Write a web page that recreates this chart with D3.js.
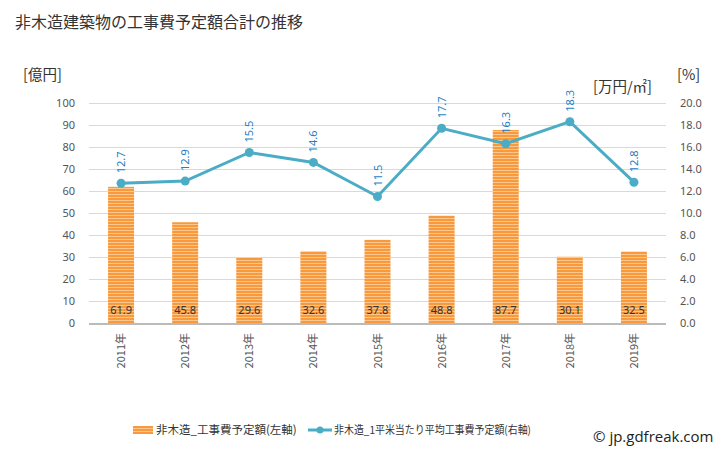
<!DOCTYPE html>
<html><head><meta charset="utf-8">
<script src="https://cdn.jsdelivr.net/npm/d3@7"></script>
<style>body{margin:0;background:#fff;} svg{display:block;font-family:"Noto Sans CJK JP","Noto Sans",sans-serif;}</style>
</head><body>
<script>
const years = ["2011年","2012年","2013年","2014年","2015年","2016年","2017年","2018年","2019年"];
const costValues = [61.9,45.8,29.6,32.6,37.8,48.8,87.7,30.1,32.5];
const unitValues = [12.7,12.9,15.5,14.6,11.5,17.7,16.3,18.3,12.8];
const leftTicks = [0,10,20,30,40,50,60,70,80,90,100];
const rightTicks = [0,2,4,6,8,10,12,14,16,18,20];
const title = "非木造建築物の工事費予定額合計の推移";
const legendBar = "非木造_工事費予定額(左軸)";
const legendLine = "非木造_1平米当たり平均工事費予定額(右軸)";

const W=728,H=450;
const svg=d3.select("body").append("svg").attr("width",W).attr("height",H);
const defs=svg.append("defs");
const pat=defs.append("pattern").attr("id","stripe").attr("patternUnits","userSpaceOnUse").attr("width",4).attr("height",3);
pat.append("rect").attr("width",4).attr("height",3).attr("fill","#fcc690");
pat.append("rect").attr("width",4).attr("height",2).attr("fill","#f8993c");

const x0=89,x1=666,yTop=103,yBot=323;
const x=d3.scaleBand().domain(years).range([x0,x1]);
const yL=d3.scaleLinear().domain([0,100]).range([yBot,yTop]);
const yR=d3.scaleLinear().domain([0,20]).range([yBot,yTop]);

svg.append("text").attr("x",15).attr("y",28).attr("font-size",16).attr("fill","#333").text(title);
svg.append("text").attr("x",23).attr("y",80).attr("font-size",14.5).attr("fill","#333").text("[億円]");
svg.append("text").attr("x",593).attr("y",92).attr("font-size",14.5).attr("fill","#333").text("[万円/㎡]");
svg.append("text").attr("x",677).attr("y",80).attr("font-size",14.5).attr("fill","#333").text("[%]");

// grid
svg.append("g").selectAll("line").data(leftTicks.slice(1)).join("line")
  .attr("x1",x0).attr("x2",x1).attr("y1",d=>yL(d)+0.5).attr("y2",d=>yL(d)+0.5)
  .attr("stroke","#d9d9d9").attr("stroke-width",1);

// left axis
const gl=svg.append("g").attr("transform",`translate(${x0},0)`)
  .call(d3.axisLeft(yL).tickValues(leftTicks).tickSize(0).tickPadding(14).tickFormat(d3.format("d")));
gl.select(".domain").remove();
gl.selectAll("text").attr("font-size",11).attr("fill","#555").style("font-family","'Noto Sans',sans-serif");

// right axis
const gr=svg.append("g").attr("transform",`translate(${x1},0)`)
  .call(d3.axisRight(yR).tickValues(rightTicks).tickSize(0).tickPadding(14).tickFormat(d3.format(".1f")));
gr.select(".domain").remove();
gr.selectAll("text").attr("font-size",11).attr("fill","#555").style("font-family","'Noto Sans',sans-serif");

// bars
const bw=26;
svg.append("g").selectAll("rect").data(costValues).join("rect")
  .attr("x",(d,i)=>x(years[i])+x.bandwidth()/2-bw/2).attr("width",bw)
  .attr("y",d=>yL(d)).attr("height",d=>yBot-yL(d)).attr("fill","url(#stripe)");

// bar labels
svg.append("g").selectAll("text").data(costValues).join("text")
  .attr("x",(d,i)=>x(years[i])+x.bandwidth()/2).attr("y",yBot-9)
  .attr("text-anchor","middle").attr("font-size",11).attr("fill","#333")
  .style("font-family","'Noto Sans',sans-serif").text(d=>d.toFixed(1));

// x axis line
svg.append("line").attr("x1",x0).attr("x2",x1).attr("y1",yBot+1).attr("y2",yBot+1).attr("stroke","#bbb").attr("stroke-width",2);

// x labels
svg.append("g").selectAll("text").data(years).join("text")
  .attr("transform",d=>`translate(${x(d)+x.bandwidth()/2+4},333) rotate(-90)`)
  .attr("text-anchor","end").attr("font-size",11).attr("fill","#555").text(d=>d);

// line
const cx=(i)=>x(years[i])+x.bandwidth()/2;
const line=d3.line().x((d,i)=>cx(i)).y(d=>yR(d));
svg.append("path").datum(unitValues).attr("d",line).attr("fill","none").attr("stroke","#4bacc6").attr("stroke-width",3);
svg.append("g").selectAll("circle").data(unitValues).join("circle")
  .attr("cx",(d,i)=>cx(i)).attr("cy",d=>yR(d)).attr("r",4.5).attr("fill","#4bacc6");
svg.append("g").selectAll("text").data(unitValues).join("text")
  .attr("transform",(d,i)=>`translate(${cx(i)+4},${yR(d)-10}) rotate(-90)`)
  .attr("text-anchor","start").attr("font-size",11).attr("fill","#1f7fc4")
  .style("font-family","'Noto Sans',sans-serif").text(d=>d.toFixed(1));

// legend
const ly=430;
const lg=svg.append("g");
lg.append("rect").attr("x",133).attr("y",ly-4).attr("width",20).attr("height",8).attr("fill","url(#stripe)");
lg.append("text").attr("x",156).attr("y",ly+4).attr("font-size",11.5).attr("fill","#333").text(legendBar);
lg.append("line").attr("x1",308).attr("x2",332).attr("y1",ly).attr("y2",ly).attr("stroke","#4bacc6").attr("stroke-width",3);
lg.append("circle").attr("cx",320).attr("cy",ly).attr("r",3.5).attr("fill","#4bacc6");
lg.append("text").attr("x",334).attr("y",ly+4).attr("font-size",11).attr("fill","#333").attr("textLength",197).attr("lengthAdjust","spacingAndGlyphs").text(legendLine);
svg.append("text").attr("x",593).attr("y",ly+12).attr("font-size",15).attr("fill","#222").style("font-family","'Open Sans',sans-serif").text("© jp.gdfreak.com");
</script>
</body></html>
